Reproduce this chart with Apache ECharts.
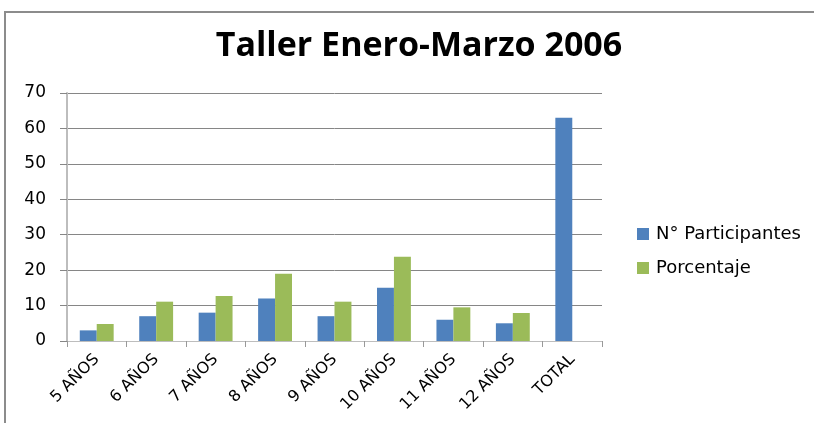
<!DOCTYPE html>
<html>
<head>
<meta charset="utf-8">
<script src="https://cdn.jsdelivr.net/npm/echarts@6/dist/echarts.min.js"></script>
<style>
  html, body { margin: 0; padding: 0; background: #fff; }
  #chart { width: 814px; height: 423px; }
</style>
</head>
<body>
<div id="chart"></div>
<script>
// datos del taller
const categorias = ["5 AÑOS", "6 AÑOS", "7 AÑOS", "8 AÑOS", "9 AÑOS", "10 AÑOS", "11 AÑOS", "12 AÑOS", "TOTAL"];
const participantes = [3, 7, 8, 12, 7, 15, 6, 5, 63];
const porcentaje = [4.8, 11.1, 12.7, 19.0, 11.1, 23.8, 9.5, 7.9, null];
const yTicks = { min: 0, max: 70, interval: 10 };

const labelFont = "DejaVu Sans";

const chart = echarts.init(document.getElementById("chart"));
chart.setOption({
  animation: false,
  title: {
    text: "Taller Enero-Marzo 2006",
    left: 414,
    textAlign: "center",
    top: 24,
    textStyle: { fontFamily: "Open Sans", fontWeight: "bold", fontSize: 34, color: "#000" }
  },
  graphic: [{
    type: "rect",
    shape: { x: 5, y: 12, width: 830, height: 440 },
    style: { fill: null, stroke: "#8c8c8c", lineWidth: 2 },
    silent: true
  }],
  legend: {
    orient: "vertical",
    left: 637,
    top: 225,
    padding: 0,
    itemWidth: 12,
    itemHeight: 12,
    itemGap: 16,
    icon: "rect",
    textStyle: { fontFamily: labelFont, fontSize: 18, color: "#000", padding: [0, 0, 0, 2] }
  },
  grid: { left: 67, right: 212, top: 93, bottom: 82 },
  xAxis: {
    type: "category",
    data: categorias,
    axisLine: { lineStyle: { color: "#bdbdbd", width: 1 } },
    axisTick: { show: true, length: 6, lineStyle: { color: "#999" } },
    axisLabel: { interval: 0, rotate: 45, margin: 16, fontFamily: labelFont, fontSize: 16, color: "#000" }
  },
  yAxis: {
    type: "value",
    min: yTicks.min,
    max: yTicks.max,
    interval: yTicks.interval,
    axisLine: { show: true, lineStyle: { color: "#bdbdbd", width: 2 } },
    axisTick: { show: true, length: 7, lineStyle: { color: "#868686" } },
    splitLine: { lineStyle: { color: "#868686" } },
    axisLabel: { margin: 21, fontFamily: labelFont, fontSize: 17, color: "#000" }
  },
  series: [
    {
      name: "N° Participantes",
      type: "bar",
      data: participantes,
      barGap: "0%",
      barCategoryGap: "43%",
      itemStyle: { color: "#4f81bd" }
    },
    {
      name: "Porcentaje",
      type: "bar",
      data: porcentaje,
      itemStyle: { color: "#9bbb59" }
    }
  ]
});
</script>
</body>
</html>
